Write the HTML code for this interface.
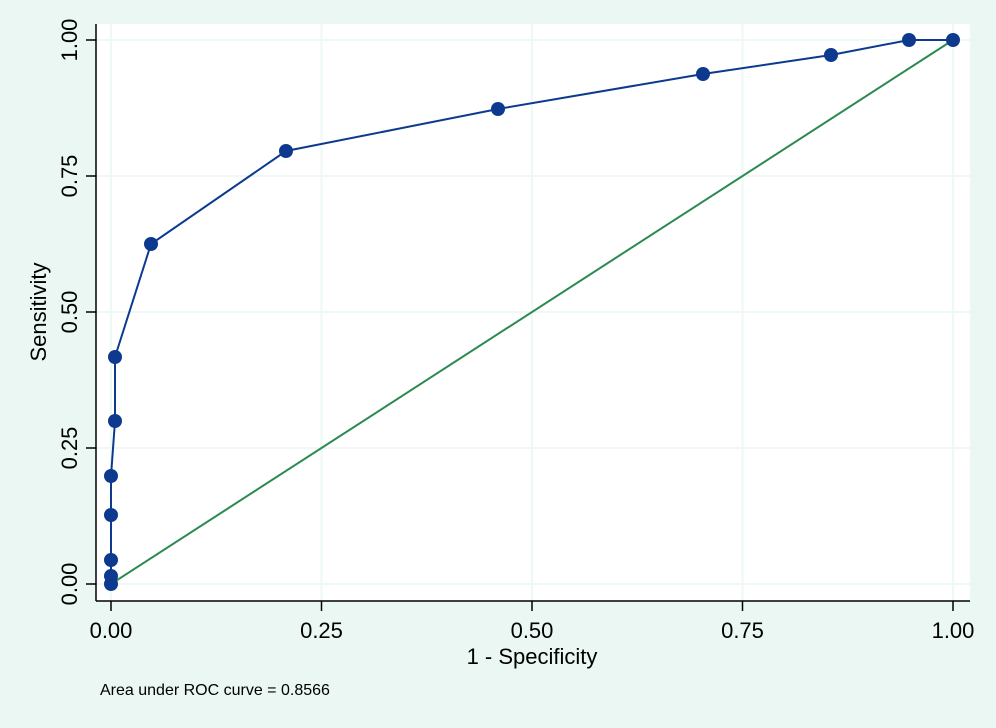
<!DOCTYPE html>
<html><head><style>body{margin:0;background:#eaf7f2;}svg{display:block}</style></head><body>
<svg width="996" height="728" xmlns="http://www.w3.org/2000/svg" font-family="Liberation Sans, sans-serif">
<rect width="996" height="728" fill="#eaf7f2"/>
<rect x="96" y="24" width="874" height="577" fill="#fff"/>
<g stroke="#eef8f5" stroke-width="2">
<line x1="96" y1="40" x2="970" y2="40"/><line x1="96" y1="176" x2="970" y2="176"/><line x1="96" y1="312" x2="970" y2="312"/><line x1="96" y1="448" x2="970" y2="448"/><line x1="96" y1="584" x2="970" y2="584"/>
<line x1="111" y1="24" x2="111" y2="601"/><line x1="321.5" y1="24" x2="321.5" y2="601"/><line x1="532" y1="24" x2="532" y2="601"/><line x1="742.5" y1="24" x2="742.5" y2="601"/><line x1="953" y1="24" x2="953" y2="601"/>
</g>
<g stroke="#000" stroke-width="1.5">
<line x1="96" y1="24" x2="96" y2="601"/><line x1="96" y1="601" x2="970" y2="601"/>
<line x1="86" y1="40" x2="96" y2="40"/><line x1="86" y1="176" x2="96" y2="176"/><line x1="86" y1="312" x2="96" y2="312"/><line x1="86" y1="448" x2="96" y2="448"/><line x1="86" y1="584" x2="96" y2="584"/>
<line x1="111" y1="601" x2="111" y2="611"/><line x1="321.5" y1="601" x2="321.5" y2="611"/><line x1="532" y1="601" x2="532" y2="611"/><line x1="742.5" y1="601" x2="742.5" y2="611"/><line x1="953" y1="601" x2="953" y2="611"/>
</g>
<g font-size="22" text-anchor="middle" fill="#000">
<text transform="translate(77,40) rotate(-90)">1.00</text>
<text transform="translate(77,176) rotate(-90)">0.75</text>
<text transform="translate(77,312) rotate(-90)">0.50</text>
<text transform="translate(77,448) rotate(-90)">0.25</text>
<text transform="translate(77,584) rotate(-90)">0.00</text>
<text x="111" y="638">0.00</text><text x="321.5" y="638">0.25</text><text x="532" y="638">0.50</text><text x="742.5" y="638">0.75</text><text x="953" y="638">1.00</text>
<text x="532" y="664">1 - Specificity</text>
<text transform="translate(46,312) rotate(-90)">Sensitivity</text>
</g>
<text x="100" y="695" font-size="16">Area under ROC curve = 0.8566</text>
<line x1="111" y1="584" x2="953" y2="40" stroke="#2a8a50" stroke-width="2"/>
<polyline fill="none" stroke="#0d3a8f" stroke-width="2" points="111,584 111,576 111,560 111,515 111,476 115,421 115,357 151,244 286,151 498,109 703,74 831,55 909,40 953,40"/>
<g fill="#0d3a8f">
<circle cx="111" cy="584" r="7"/><circle cx="111" cy="576" r="7"/><circle cx="111" cy="560" r="7"/><circle cx="111" cy="515" r="7"/><circle cx="111" cy="476" r="7"/><circle cx="115" cy="421" r="7"/><circle cx="115" cy="357" r="7"/><circle cx="151" cy="244" r="7"/><circle cx="286" cy="151" r="7"/><circle cx="498" cy="109" r="7"/><circle cx="703" cy="74" r="7"/><circle cx="831" cy="55" r="7"/><circle cx="909" cy="40" r="7"/><circle cx="953" cy="40" r="7"/>
</g>
</svg>
</body></html>
